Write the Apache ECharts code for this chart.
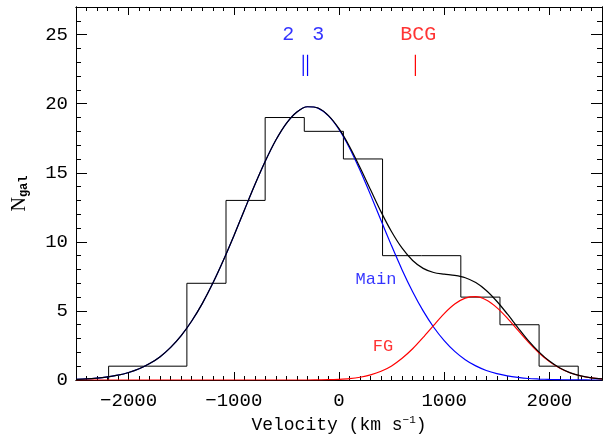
<!DOCTYPE html>
<html>
<head>
<meta charset="utf-8">
<script src="https://cdn.jsdelivr.net/npm/echarts@6/dist/echarts.min.js"></script>
<style>
  html, body { margin: 0; padding: 0; background: #fff; }
  #main { width: 612px; height: 441px; }
</style>
</head>
<body>
<div id="main"></div>
<script>
// histogram (bin edges in km/s, galaxy counts per bin)
var binEdges = [-2190, -1818, -1446, -1074, -702, -330, 42, 414, 786, 1158, 1530, 1902, 2274];
var binCounts = [1, 1, 7, 13, 19, 18, 16, 9, 9, 6, 4, 1];

// fitted curves, every 100 km/s
var curveVel = [-2500, -2400, -2300, -2200, -2100, -2000, -1900, -1800, -1700, -1600, -1500,
  -1400, -1300, -1200, -1100, -1000, -900, -800, -700, -600, -500,
  -400, -300, -200, -100, 0, 100, 200, 300, 400, 500,
  600, 700, 800, 900, 1000, 1100, 1200, 1300, 1400, 1500,
  1600, 1700, 1800, 1900, 2000, 2100, 2200, 2300, 2400, 2500];
var mainVals = [0.05, 0.08, 0.14, 0.23, 0.35, 0.54, 0.81, 1.19, 1.69, 2.36, 3.21,
  4.27, 5.53, 7.00, 8.65, 10.43, 12.29, 14.13, 15.85, 17.37, 18.58,
  19.40, 19.78, 19.68, 19.12, 18.14, 16.80, 15.18, 13.40, 11.54, 9.71,
  7.97, 6.39, 5.00, 3.82, 2.85, 2.07, 1.47, 1.02, 0.69, 0.46,
  0.30, 0.19, 0.11, 0.07, 0.04, 0.02, 0.01, 0.01, 0.00, 0.00];
var fgVals = [0, 0, 0, 0, 0, 0, 0, 0, 0, 0, 0,
  0, 0, 0, 0, 0, 0, 0, 0, 0, 0,
  0, 0, 0.01, 0.02, 0.05, 0.10, 0.20, 0.37, 0.63, 1.02,
  1.57, 2.26, 3.08, 3.96, 4.81, 5.50, 5.93, 6.03, 5.79, 5.24,
  4.48, 3.61, 2.74, 1.97, 1.33, 0.85, 0.51, 0.29, 0.16, 0.08];
var totalVals = [0.05, 0.08, 0.14, 0.23, 0.35, 0.54, 0.81, 1.19, 1.69, 2.36, 3.21,
  4.27, 5.53, 7.00, 8.65, 10.43, 12.29, 14.13, 15.85, 17.37, 18.58,
  19.40, 19.78, 19.69, 19.14, 18.19, 16.90, 15.38, 13.77, 12.17, 10.73,
  9.54, 8.65, 8.08, 7.78, 7.66, 7.57, 7.40, 7.05, 6.48, 5.70,
  4.78, 3.80, 2.85, 2.04, 1.37, 0.87, 0.52, 0.30, 0.16, 0.08];

// velocity markers at the top
var markerVel = [-340, -299, 726];
var markerColor = ['#0000ff', '#0000ff', '#ff0000'];
var markerLow = 22.0, markerHigh = 23.55;
var markerText = ['2', '3', 'BCG'];
var markerTextVel = [-482, -198, 753];
var markerTextColor = ['#0000ff', '#0000ff', '#ff0000'];

// component labels
var compText = ['Main', 'FG'];
var compPos = [[351, 7.3], [418, 2.4]];
var compColor = ['#0000ff', '#ff0000'];

// ticks
var xTickVals = [-2000, -1000, 0, 1000, 2000];
var xTickLabels = ['\u22122000', '\u22121000', '0', '1000', '2000'];
var yTickVals = [0, 5, 10, 15, 20, 25];
var yTickLabels = ['0', '5', '10', '15', '20', '25'];

var xMinor = [];
for (var v = -2500; v <= 2500; v += 100) xMinor.push(v);
var yMinor = [];
for (var n = 0; n <= 27; n++) yMinor.push(n);

var font = 'Liberation Mono';

var histPts = [[binEdges[0], 0]];
for (var i = 0; i < binCounts.length; i++) histPts.push([binEdges[i], binCounts[i]]);
histPts.push([binEdges[binEdges.length - 1], 0]);

function pairs(ys) {
  return curveVel.map(function(x, k) { return [x, ys[k]]; });
}

function xAx(pos, vals, len, lbl) {
  return {
    type: 'value', position: pos, min: -2500, max: 2500,
    axisLine: { show: true, onZero: false, lineStyle: { color: '#000', width: 1 } },
    axisTick: { show: true, inside: true, length: len, customValues: vals, lineStyle: { color: '#000', width: 1 } },
    axisLabel: lbl ? {
      show: true, customValues: xTickVals, margin: 11, color: '#000',
      fontFamily: font, fontSize: 19,
      formatter: function(val) { return xTickLabels[xTickVals.indexOf(val)]; }
    } : { show: false },
    splitLine: { show: false }
  };
}

function yAx(pos, vals, len, lbl) {
  return {
    type: 'value', position: pos, min: 0, max: 27,
    axisLine: { show: true, onZero: false, lineStyle: { color: '#000', width: 1 } },
    axisTick: { show: true, inside: true, length: len, customValues: vals, lineStyle: { color: '#000', width: 1 } },
    axisLabel: lbl ? {
      show: true, customValues: yTickVals, margin: 8, color: '#000',
      fontFamily: font, fontSize: 19,
      formatter: function(val) { return yTickLabels[yTickVals.indexOf(val)]; }
    } : { show: false },
    splitLine: { show: false }
  };
}

var xAxes = [xAx('bottom', xTickVals, 8, true), xAx('bottom', xMinor, 4, false),
  xAx('top', xTickVals, 8, false), xAx('top', xMinor, 4, false)];
xAxes[0].name = '{t|Velocity (km s}{sup|\u22121}{t|)}';
xAxes[0].nameLocation = 'middle';
xAxes[0].nameGap = 33;
xAxes[0].nameTextStyle = {
  color: '#000',
  rich: {
    t: { fontFamily: font, fontSize: 18, color: '#000', lineHeight: 20 },
    sup: { fontFamily: font, fontSize: 11, color: '#000', lineHeight: 20, padding: [0, 0, 9, 0] }
  }
};

var yAxes = [yAx('left', yTickVals, 11, true), yAx('left', yMinor, 5, false),
  yAx('right', yTickVals, 11, false), yAx('right', yMinor, 5, false)];
yAxes[0].name = '{t|N}{sub|gal}';
yAxes[0].nameLocation = 'middle';
yAxes[0].nameRotate = 90;
yAxes[0].nameGap = 46;
yAxes[0].nameTextStyle = {
  color: '#000',
  rich: {
    t: { fontFamily: 'Liberation Serif', fontSize: 20, color: '#000', lineHeight: 20 },
    sub: { fontFamily: font, fontSize: 12, fontWeight: 'bold', color: '#000', lineHeight: 20, padding: [8, 0, 0, 0] }
  }
};

var series = [
  {
    type: 'line', data: histPts, step: 'end', symbol: 'none', silent: true,
    lineStyle: { color: '#000', width: 1 }, z: 3
  },
  {
    type: 'line', data: pairs(mainVals), smooth: 0.3, symbol: 'none', silent: true,
    lineStyle: { color: '#0000ff', width: 1.2 }, z: 4
  },
  {
    type: 'line', data: pairs(fgVals), smooth: 0.3, symbol: 'none', silent: true,
    lineStyle: { color: '#ff0000', width: 1.2 }, z: 5
  },
  {
    type: 'line', data: pairs(totalVals), smooth: 0.3, symbol: 'none', silent: true,
    lineStyle: { color: '#000', width: 1.2 }, z: 6
  }
];

markerVel.forEach(function(mv, k) {
  series.push({
    type: 'line', data: [[mv, markerLow], [mv, markerHigh]], symbol: 'none', silent: true,
    itemStyle: { color: markerColor[k] },
    lineStyle: { color: markerColor[k], width: 1.2 }, z: 7
  });
});

series.push({
  type: 'scatter', symbolSize: 0, silent: true, z: 8,
  data: markerText.map(function(t, k) {
    return {
      name: t, value: [markerTextVel[k], 25.0],
      label: { show: true, position: 'inside', formatter: t, color: markerTextColor[k],
        fontFamily: font, fontSize: 20 }
    };
  })
});

series.push({
  type: 'scatter', symbolSize: 0, silent: true, z: 8,
  data: compText.map(function(t, k) {
    return {
      name: t, value: compPos[k],
      label: { show: true, position: 'inside', formatter: t, color: compColor[k],
        fontFamily: font, fontSize: 17 }
    };
  })
});

var chart = echarts.init(document.getElementById('main'), null, { renderer: 'canvas' });
chart.setOption({
  animation: false,
  backgroundColor: '#fff',
  grid: { left: 76, right: 10, top: 7, bottom: 61, containLabel: false, outerBoundsMode: 'none' },
  xAxis: xAxes,
  yAxis: yAxes,
  series: series
});
</script>
</body>
</html>
